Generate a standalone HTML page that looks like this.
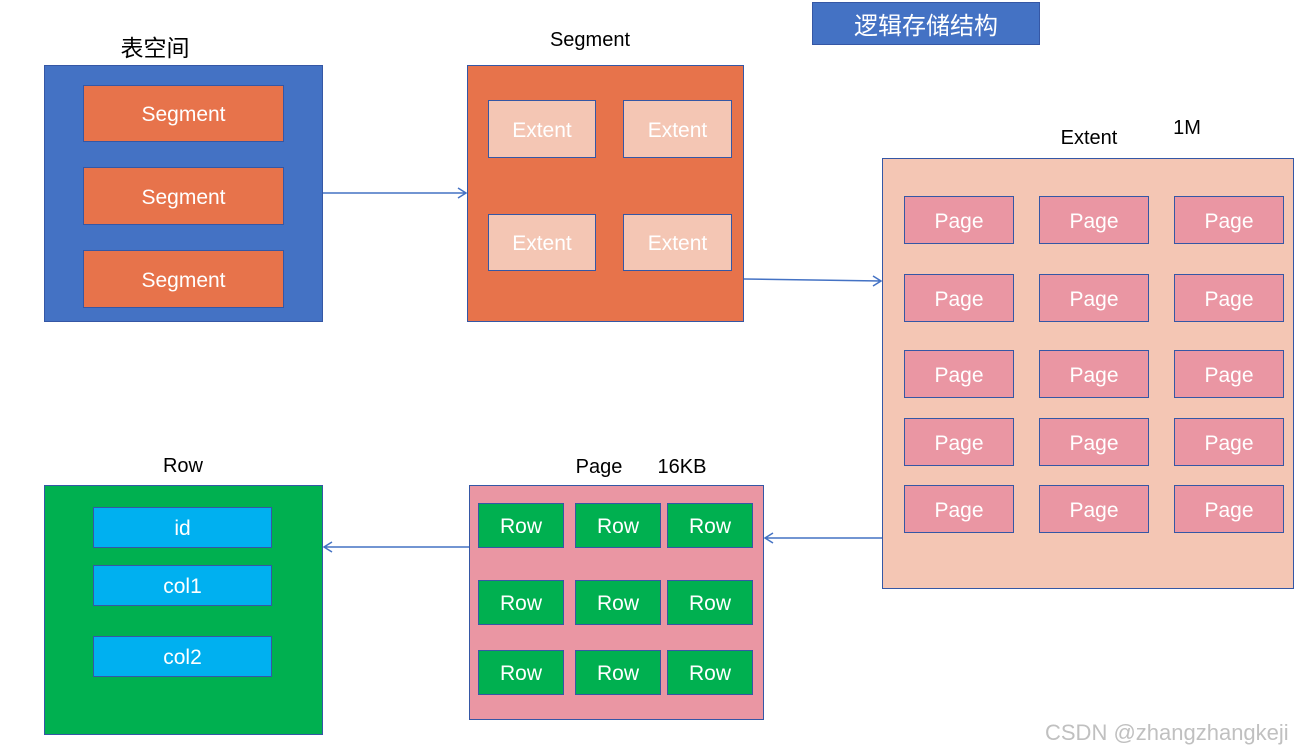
<!DOCTYPE html>
<html><head><meta charset="utf-8"><style>
body{margin:0;width:1313px;height:755px;background:#fff;position:relative;overflow:hidden;font-family:"Liberation Sans","Noto Sans CJK SC",sans-serif}
.b{position:absolute;box-sizing:border-box;border:1.5px solid #3557a5;display:flex;align-items:center;justify-content:center;color:#fff;font-size:21px;padding-top:3px}
.t{position:absolute;color:#000;font-size:20px;transform:translateX(-50%);white-space:nowrap}
.bl{background:#4472c4}.or{background:#e7734b}.lt{background:#f4c6b4}.pk{background:#ea96a3}.gr{background:#00b050}.cy{background:#00b0f0}
</style></head><body>
<div class="b bl" style="left:812px;top:2px;width:228px;height:43px;font-size:24px;padding-top:0">逻辑存储结构</div>
<div class="t" style="left:155px;top:29px;font-size:23px">表空间</div>
<div class="t" style="left:590px;top:29px">Segment</div>
<div class="t" style="left:1089px;top:127px">Extent</div>
<div class="t" style="left:1187px;top:117px">1M</div>
<div class="t" style="left:183px;top:455px">Row</div>
<div class="t" style="left:599px;top:456px">Page</div>
<div class="t" style="left:682px;top:456px">16KB</div>
<div style="position:absolute;left:1045px;top:720px;font-size:22px;color:#c0c0c0">CSDN @zhangzhangkeji</div>

<div class="b bl" style="left:44px;top:65px;width:279px;height:257px"></div>
<div class="b or" style="left:83px;top:85px;width:201px;height:57px">Segment</div>
<div class="b or" style="left:83px;top:167px;width:201px;height:58px">Segment</div>
<div class="b or" style="left:83px;top:250px;width:201px;height:58px">Segment</div>

<div class="b or" style="left:467px;top:65px;width:277px;height:257px"></div>
<div class="b lt" style="left:488px;top:100px;width:108px;height:58px">Extent</div>
<div class="b lt" style="left:623px;top:100px;width:109px;height:58px">Extent</div>
<div class="b lt" style="left:488px;top:214px;width:108px;height:57px">Extent</div>
<div class="b lt" style="left:623px;top:214px;width:109px;height:57px">Extent</div>

<div class="b lt" style="left:882px;top:158px;width:412px;height:431px"></div>
<div class="b pk" style="left:904px;top:196px;width:110px;height:48px">Page</div>
<div class="b pk" style="left:1039px;top:196px;width:110px;height:48px">Page</div>
<div class="b pk" style="left:1174px;top:196px;width:110px;height:48px">Page</div>
<div class="b pk" style="left:904px;top:274px;width:110px;height:48px">Page</div>
<div class="b pk" style="left:1039px;top:274px;width:110px;height:48px">Page</div>
<div class="b pk" style="left:1174px;top:274px;width:110px;height:48px">Page</div>
<div class="b pk" style="left:904px;top:350px;width:110px;height:48px">Page</div>
<div class="b pk" style="left:1039px;top:350px;width:110px;height:48px">Page</div>
<div class="b pk" style="left:1174px;top:350px;width:110px;height:48px">Page</div>
<div class="b pk" style="left:904px;top:418px;width:110px;height:48px">Page</div>
<div class="b pk" style="left:1039px;top:418px;width:110px;height:48px">Page</div>
<div class="b pk" style="left:1174px;top:418px;width:110px;height:48px">Page</div>
<div class="b pk" style="left:904px;top:485px;width:110px;height:48px">Page</div>
<div class="b pk" style="left:1039px;top:485px;width:110px;height:48px">Page</div>
<div class="b pk" style="left:1174px;top:485px;width:110px;height:48px">Page</div>

<div class="b pk" style="left:469px;top:485px;width:295px;height:235px"></div>
<div class="b gr" style="left:478px;top:503px;width:86px;height:45px">Row</div>
<div class="b gr" style="left:575px;top:503px;width:86px;height:45px">Row</div>
<div class="b gr" style="left:667px;top:503px;width:86px;height:45px">Row</div>
<div class="b gr" style="left:478px;top:580px;width:86px;height:45px">Row</div>
<div class="b gr" style="left:575px;top:580px;width:86px;height:45px">Row</div>
<div class="b gr" style="left:667px;top:580px;width:86px;height:45px">Row</div>
<div class="b gr" style="left:478px;top:650px;width:86px;height:45px">Row</div>
<div class="b gr" style="left:575px;top:650px;width:86px;height:45px">Row</div>
<div class="b gr" style="left:667px;top:650px;width:86px;height:45px">Row</div>

<div class="b gr" style="left:44px;top:485px;width:279px;height:250px"></div>
<div class="b cy" style="left:93px;top:507px;width:179px;height:41px">id</div>
<div class="b cy" style="left:93px;top:565px;width:179px;height:41px">col1</div>
<div class="b cy" style="left:93px;top:636px;width:179px;height:41px">col2</div>

<svg width="1313" height="755" style="position:absolute;left:0;top:0" fill="none" stroke="#4472c4" stroke-width="1.5">
<path d="M323 193H466M458 188L466 193L458 198"/>
<path d="M744 279L881 281M873 276L881 281L873 286"/>
<path d="M882 538H765M773 533L765 538L773 543"/>
<path d="M469 547H324M332 542L324 547L332 552"/>
</svg>
</body></html>
